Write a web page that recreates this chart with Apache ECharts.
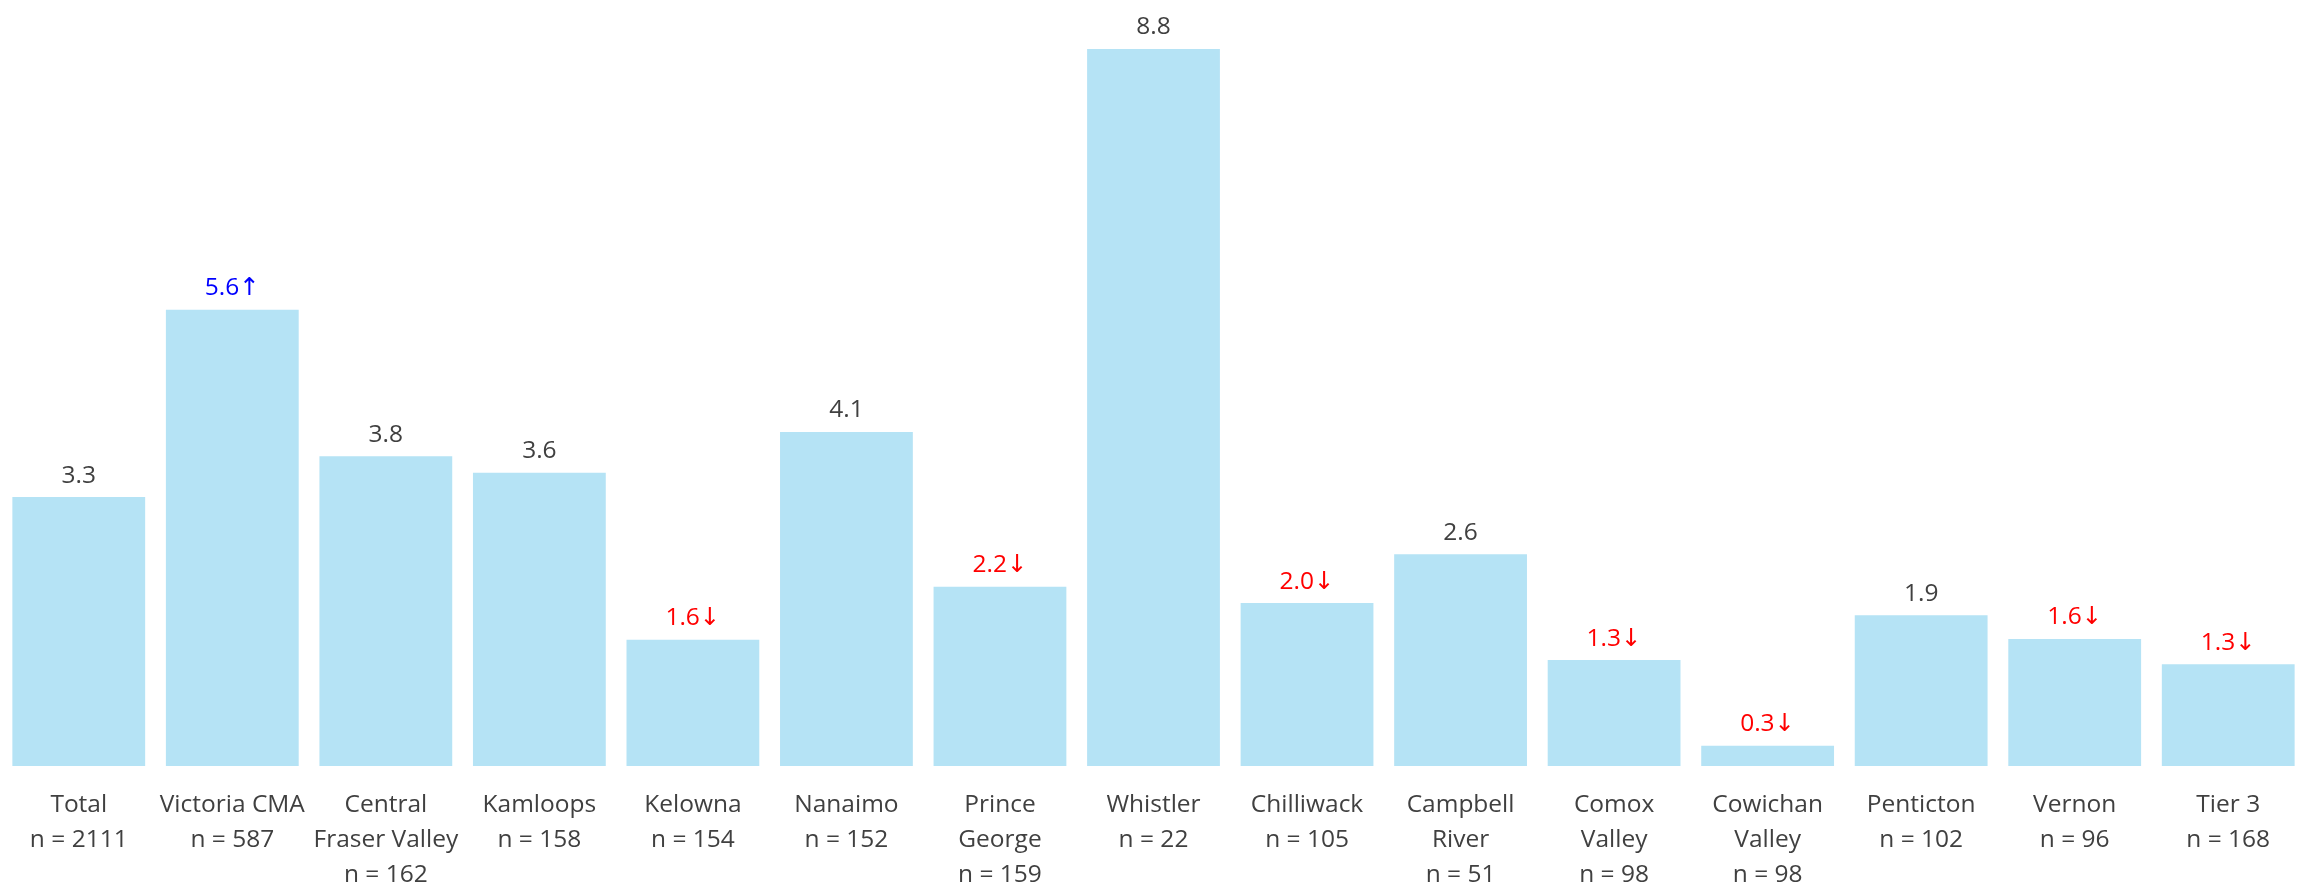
<!DOCTYPE html>
<html>
<head>
<meta charset="utf-8">
<script src="https://cdn.jsdelivr.net/npm/echarts@6/dist/echarts.min.js"></script>
<style>
html,body{margin:0;padding:0;background:#fff;}
#chart{width:2305px;height:893px;}
</style>
</head>
<body>
<div id="chart"></div>
<script>
const categories = ["Total", "Victoria CMA", "Central\nFraser Valley", "Kamloops", "Kelowna", "Nanaimo", "Prince\nGeorge", "Whistler", "Chilliwack", "Campbell\nRiver", "Comox\nValley", "Cowichan\nValley", "Penticton", "Vernon", "Tier 3"];
const sampleSizes = [2111, 587, 162, 158, 154, 152, 159, 22, 105, 51, 98, 98, 102, 96, 168];
const values = [3.3, 5.6, 3.8, 3.6, 1.55, 4.1, 2.2, 8.8, 2.0, 2.6, 1.3, 0.25, 1.85, 1.56, 1.25];
const significance = ["", "up", "", "", "down", "", "down", "", "down", "", "down", "down", "", "down", "down"];

const sigColor = {up: "#0000ff", down: "#ff0000", "": "#404040"};
const sigArrow = {up: "↑", down: "↓", "": ""};
const fontFam = "'Open Sans', 'DejaVu Sans', sans-serif";

const axisLabels = categories.map((c, i) => c + "\nn = " + sampleSizes[i]);
const data = values.map((v, i) => ({
  value: v,
  label: {color: sigColor[significance[i]]}
}));

const chart = echarts.init(document.getElementById('chart'));
chart.setOption({
  animation: false,
  backgroundColor: '#ffffff',
  grid: {left: 2, right: 0, top: 0, bottom: 123, containLabel: false},
  xAxis: {
    type: 'category',
    data: axisLabels,
    axisLine: {show: false},
    axisTick: {show: false},
    axisLabel: {
      interval: 0,
      margin: 22,
      fontSize: 24.5,
      lineHeight: 35,
      color: '#404040',
      fontFamily: fontFam,
      align: 'center'
    }
  },
  yAxis: {
    type: 'value',
    min: 0,
    max: 9.4,
    show: false,
    splitLine: {show: false}
  },
  series: [{
    type: 'bar',
    data: data,
    barCategoryGap: '13.5%',
    itemStyle: {color: '#b5e3f5'},
    label: {
      show: true,
      position: 'top',
      distance: 9,
      fontSize: 24.5,
      fontFamily: fontFam,
      formatter: p => p.value.toFixed(1) + sigArrow[significance[p.dataIndex]]
    }
  }]
});
</script>
</body>
</html>
